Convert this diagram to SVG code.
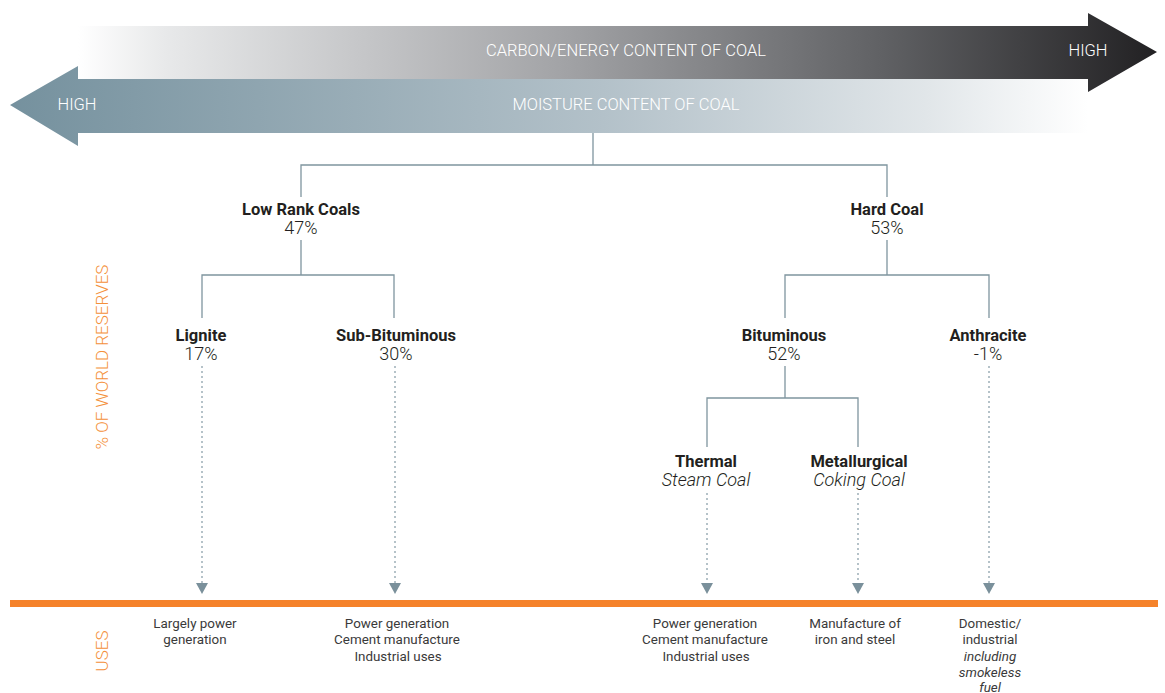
<svg xmlns="http://www.w3.org/2000/svg" width="1165" height="693" viewBox="0 0 1165 693">
<defs>
<linearGradient id="gCarbon" x1="78" y1="0" x2="1157" y2="0" gradientUnits="userSpaceOnUse">
<stop offset="0" stop-color="#ffffff"/>
<stop offset="0.08" stop-color="#e8e9ea"/>
<stop offset="0.45" stop-color="#a2a3a6"/>
<stop offset="0.75" stop-color="#5f6063"/>
<stop offset="1" stop-color="#222123"/>
</linearGradient>
<linearGradient id="gMoist" x1="10" y1="0" x2="1088" y2="0" gradientUnits="userSpaceOnUse">
<stop offset="0" stop-color="#75919e"/>
<stop offset="0.55" stop-color="#b3c1c9"/>
<stop offset="0.85" stop-color="#e1e6e9"/>
<stop offset="1" stop-color="#ffffff"/>
</linearGradient>
<style>
.band{font-family:Roboto,"Liberation Sans",sans-serif;font-weight:300;font-size:16.5px;fill:#ffffff}
.t{font-family:Roboto,"Liberation Sans",sans-serif;font-weight:700;font-size:16.5px;fill:#231f20;text-anchor:middle}
.p{font-family:Roboto,"Liberation Sans",sans-serif;font-weight:300;font-size:18px;fill:#231f20;text-anchor:middle}
.i{font-family:Roboto,"Liberation Sans",sans-serif;font-weight:300;font-style:italic;font-size:18px;fill:#231f20;text-anchor:middle}
.u{font-family:Roboto,"Liberation Sans",sans-serif;font-weight:400;font-size:13.4px;fill:#3a3a3a;text-anchor:middle}
.ui{font-style:italic}
.side{font-family:Roboto,"Liberation Sans",sans-serif;font-weight:300;font-size:17px;fill:#f4903a;text-anchor:middle}
.ln{fill:none;stroke:#7f959f;stroke-width:1.3}
.dot{fill:none;stroke:#8ea2ac;stroke-width:1.3;stroke-dasharray:2 3}
.ah{fill:#7a909b}
</style>
</defs>

<g id="carbon-arrow">
<path d="M78,26 H1088 V13 L1157,52 L1088,92 V79 H78 Z" fill="url(#gCarbon)"/>
<text class="band" x="626" y="56" text-anchor="middle">CARBON/ENERGY CONTENT OF COAL</text>
<text class="band" x="1088" y="56" text-anchor="middle">HIGH</text>
</g>
<g id="moisture-arrow">
<path d="M1088,79 H78 V66 L10,105 L78,146 V133 H1088 Z" fill="url(#gMoist)"/>
<text class="band" x="77" y="110" text-anchor="middle">HIGH</text>
<text class="band" x="626" y="110" text-anchor="middle">MOISTURE CONTENT OF COAL</text>
</g>

<g id="connectors">
<path class="ln" d="M593,133 V165 M301,197 V165 H887 V197"/>
<path class="ln" d="M301,240 V275 M202,318 V275 H394 V318"/>
<path class="ln" d="M887,240 V275 M785,318 V275 H989 V318"/>
<path class="ln" d="M785,366 V398 M707,447 V398 H858 V447"/>
<path class="dot" d="M202,366 V583"/>
<path class="dot" d="M395,366 V583"/>
<path class="dot" d="M707,493 V583"/>
<path class="dot" d="M858,493 V583"/>
<path class="dot" d="M989,366 V583"/>
<path class="ah" d="M196,583 H208 L202,594 Z"/>
<path class="ah" d="M389,583 H401 L395,594 Z"/>
<path class="ah" d="M701,583 H713 L707,594 Z"/>
<path class="ah" d="M852,583 H864 L858,594 Z"/>
<path class="ah" d="M983,583 H995 L989,594 Z"/>
</g>

<g id="low-rank"><text class="t" x="301" y="215">Low Rank Coals</text><text class="p" x="301" y="234">47%</text></g>
<g id="hard-coal"><text class="t" x="887" y="215">Hard Coal</text><text class="p" x="887" y="234">53%</text></g>
<g id="lignite"><text class="t" x="201" y="341">Lignite</text><text class="p" x="201" y="360">17%</text></g>
<g id="sub-bituminous"><text class="t" x="396" y="341">Sub-Bituminous</text><text class="p" x="396" y="360">30%</text></g>
<g id="bituminous"><text class="t" x="784" y="341">Bituminous</text><text class="p" x="784" y="360">52%</text></g>
<g id="anthracite"><text class="t" x="988" y="341">Anthracite</text><text class="p" x="988" y="360">-1%</text></g>
<g id="thermal"><text class="t" x="706" y="467">Thermal</text><text class="i" x="706" y="486">Steam Coal</text></g>
<g id="metallurgical"><text class="t" x="859" y="467">Metallurgical</text><text class="i" x="859" y="486">Coking Coal</text></g>

<g id="uses-bar"><rect x="10" y="600" width="1148" height="7" fill="#f5822a"/></g>

<g id="side-labels">
<text class="side" transform="translate(108,357) rotate(-90)">% OF WORLD RESERVES</text>
<text class="side" transform="translate(108,651) rotate(-90)">USES</text>
</g>

<g id="use-lignite"><text class="u" x="195" y="628">Largely power</text><text class="u" x="195" y="644">generation</text></g>
<g id="use-sub"><text class="u" x="397" y="628">Power generation</text><text class="u" x="397" y="644">Cement manufacture</text><text class="u" x="398" y="661">Industrial uses</text></g>
<g id="use-thermal"><text class="u" x="705" y="628">Power generation</text><text class="u" x="705" y="644">Cement manufacture</text><text class="u" x="706" y="661">Industrial uses</text></g>
<g id="use-met"><text class="u" x="855" y="628">Manufacture of</text><text class="u" x="855" y="644">iron and steel</text></g>
<g id="use-anth"><text class="u" x="990" y="628">Domestic/</text><text class="u" x="990" y="644">industrial</text><text class="u ui" x="990" y="661">including</text><text class="u ui" x="990" y="677">smokeless</text><text class="u ui" x="990" y="692">fuel</text></g>
</svg>
